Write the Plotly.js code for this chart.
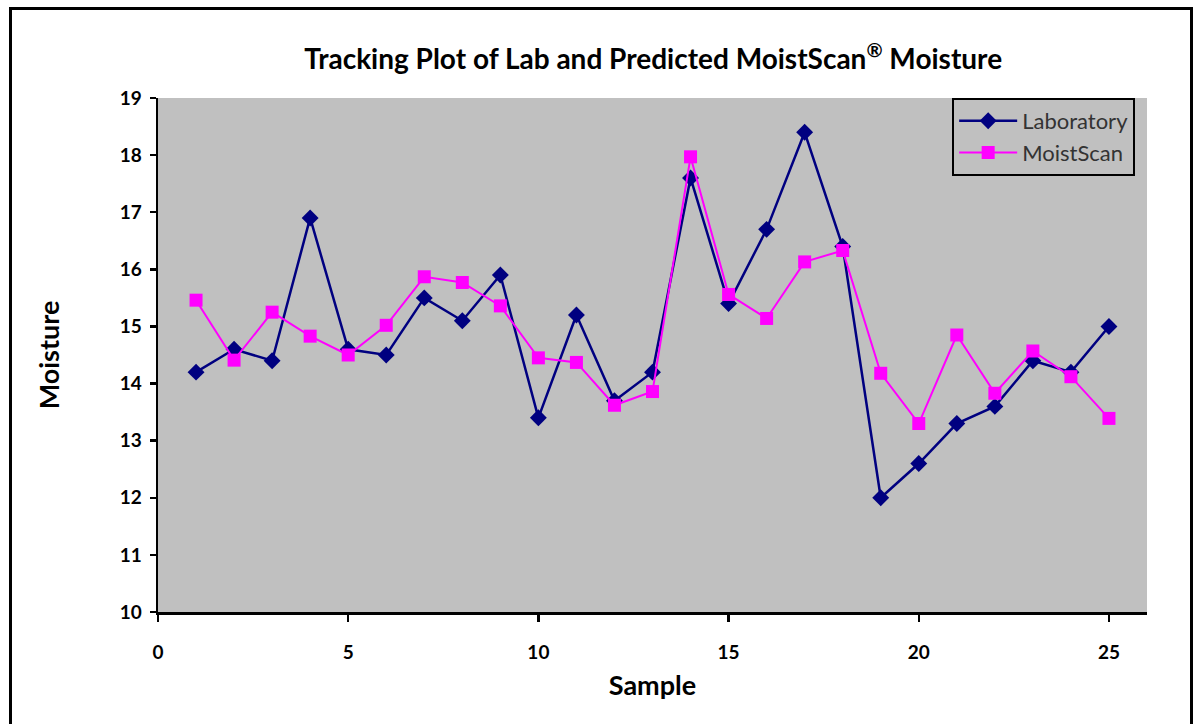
<!DOCTYPE html>
<html>
<head>
<meta charset="utf-8">
<script src="https://cdn.plot.ly/plotly-3.0.1.min.js"></script>
<style>
  html, body { margin: 0; padding: 0; background: #ffffff; overflow: hidden; }
  #frame { position: absolute; left: 9px; top: 7px; width: 1184px; height: 740px; border: 3px solid #000; box-sizing: border-box; }
  #chart { position: absolute; left: 0; top: 0; width: 1204px; height: 724px; }
</style>
</head>
<body>
<div id="frame"></div>
<div id="chart"></div>
<script>
const samples = [1,2,3,4,5,6,7,8,9,10,11,12,13,14,15,16,17,18,19,20,21,22,23,24,25];
const laboratory = [14.2,14.6,14.4,16.9,14.6,14.5,15.5,15.1,15.9,13.4,15.2,13.7,14.2,17.6,15.4,16.7,18.4,16.4,12.0,12.6,13.3,13.6,14.4,14.2,15.0];
const moistscan = [15.46,14.41,15.25,14.83,14.5,15.02,15.87,15.77,15.36,14.45,14.37,13.62,13.86,17.97,15.56,15.14,16.13,16.33,14.18,13.3,14.85,13.83,14.57,14.12,13.39];
const xTicks = [0,5,10,15,20,25];
const yTicks = [10,11,12,13,14,15,16,17,18,19];

const traces = [
  {
    x: samples, y: laboratory, name: 'Laboratory', type: 'scatter', mode: 'lines+markers',
    line: {color: '#000080', width: 2.5},
    marker: {symbol: 'diamond', size: 13, color: '#000080'}
  },
  {
    x: samples, y: moistscan, name: 'MoistScan', type: 'scatter', mode: 'lines+markers',
    line: {color: '#FF00FF', width: 2},
    marker: {symbol: 'square', size: 13, color: '#FF00FF'}
  }
];

const layout = {
  width: 1204, height: 724,
  margin: {l: 158, r: 57, t: 98, b: 112},
  paper_bgcolor: 'rgba(0,0,0,0)',
  plot_bgcolor: '#c0c0c0',
  font: {family: 'Lato, "Open Sans", sans-serif', color: '#000'},
  title: {
    text: 'Tracking Plot of Lab and Predicted MoistScan<sup>®</sup> Moisture',
    font: {size: 28, family: 'Lato, sans-serif', weight: 'bold', color: '#000'},
    x: 0.5425, xanchor: 'center', y: 0.918, yanchor: 'middle'
  },
  xaxis: {
    range: [0, 26], tickvals: xTicks, ticktext: xTicks.map(String),
    showgrid: false, zeroline: false, showline: true, linecolor: '#000', linewidth: 2.5,
    ticks: 'outside', ticklen: 7, tickwidth: 2.5, tickcolor: '#000',
    ticklabelstandoff: 15,
    tickfont: {size: 19, weight: 'bold', color: '#000'},
    title: {text: 'Sample', font: {size: 27, weight: 'bold', color: '#000'}, standoff: 14}
  },
  yaxis: {
    range: [10, 19], tickvals: yTicks, ticktext: yTicks.map(String),
    showgrid: false, zeroline: false, showline: true, linecolor: '#000', linewidth: 2.5,
    ticks: 'outside', ticklen: 6, tickwidth: 2.5, tickcolor: '#000',
    ticklabelstandoff: 4,
    tickfont: {size: 19, weight: 'bold', color: '#000'},
    title: {text: 'Moisture', font: {size: 27, weight: 'bold', color: '#000'}, standoff: 52}
  },
  showlegend: true,
  legend: {
    x: 0.803, xanchor: 'left', y: 1, yanchor: 'top',
    bgcolor: '#c0c0c0', bordercolor: '#000', borderwidth: 2,
    font: {size: 22, color: '#333'},
    itemwidth: 58,
    tracegroupgap: 6
  }
};

Plotly.newPlot('chart', traces, layout, {displayModeBar: false, staticPlot: true});
</script>
</body>
</html>
